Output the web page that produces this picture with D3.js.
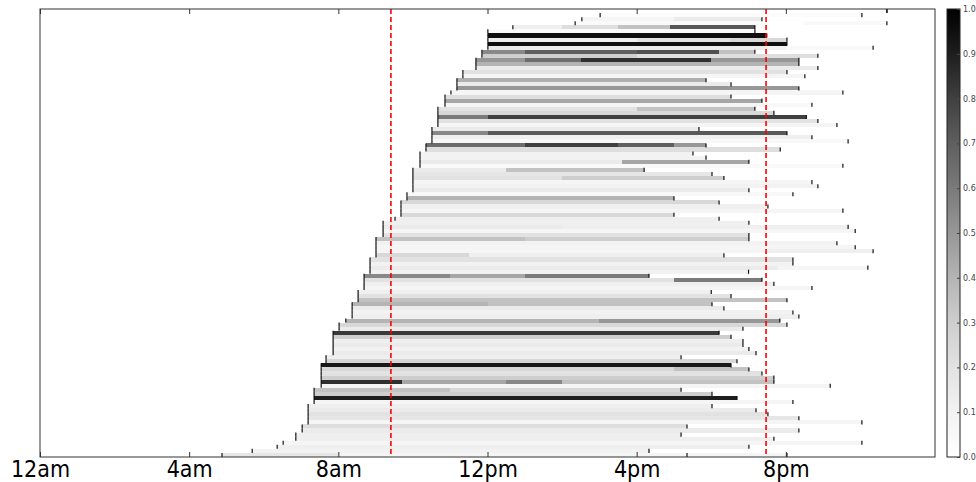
<!DOCTYPE html>
<html><head><meta charset="utf-8">
<script src="https://cdn.jsdelivr.net/npm/d3@7"></script>
<style>body{margin:0;background:#fff}svg{display:block}</style>
</head><body>
<svg id="c" width="976" height="482"></svg>
<script>
// ---- data ----
const tickHours = [0, 4, 8, 12, 16, 20];
const tickLabels = ["12am", "4am", "8am", "12pm", "4pm", "8pm"];
const refLines = [9.41, 19.47];
const colorbarTicks = [0, 0.1, 0.2, 0.3, 0.4, 0.5, 0.6, 0.7, 0.8, 0.9, 1.0];

// start hour per row (top to bottom)
const rowStart = [
 22.71, 15.02, 14.53, 14.35, 12.68, 12.01, 12.01, 12.01, 12.01, 12.01,
 11.85, 11.85, 11.69, 11.69, 11.69, 11.34, 11.34, 11.18, 11.18, 11.18,
 11.02, 10.86, 10.86, 10.86, 10.67, 10.67, 10.67, 10.67, 10.67, 10.51,
 10.51, 10.51, 10.51, 10.35, 10.35, 10.19, 10.19, 10.19, 10.19, 10.0,
 10.0, 10.0, 10.0, 10.0, 10.0, 9.84, 9.84, 9.68, 9.68, 9.68,
 9.68, 9.52, 9.2, 9.2, 9.2, 9.2, 9.01, 9.01, 9.01, 9.01,
 9.01, 8.85, 8.85, 8.85, 8.85, 8.69, 8.69, 8.69, 8.69, 8.53,
 8.53, 8.53, 8.37, 8.37, 8.37, 8.37, 8.2, 8.02, 8.02, 7.86,
 7.86, 7.86, 7.86, 7.86, 7.86, 7.67, 7.67, 7.54, 7.54, 7.54,
 7.54, 7.54, 7.54, 7.35, 7.35, 7.35, 7.35, 7.19, 7.19, 7.19,
 7.19, 7.19, 7.03, 7.03, 6.86, 6.86, 6.52, 6.36, 5.69, 4.88
];

// end / intermediate markers per row
const rowTicks = [
 [22.71], [22.04], [19.36], [22.71], [19.17], [19.17], [19.49], [20.03], [20.03], [22.34],
 [19.17], [20.86], [20.35], [20.35], [20.86], [20.03], [20.51], [17.86], [18.53], [20.35],
 [21.53], [18.53], [19.36], [20.7], [19.17], [19.68], [20.55], [20.86], [21.37], [17.67],
 [20.03], [20.7], [21.67], [17.86], [19.85], [17.51], [17.86], [19.01], [21.53], [16.2],
 [18.02], [18.34], [20.7], [20.86], [19.01], [20.19], [17.0], [18.21], [19.52], [21.53],
 [17.0], [18.21], [19.01], [21.67], [21.86], [19.01], [19.01], [21.37], [21.86], [22.34],
 [18.34], [20.19], [20.19], [22.2], [19.0], [16.33], [19.36], [19.68], [20.7], [18.0],
 [18.53], [20.03], [18.02], [18.34], [20.19], [20.35], [19.84], [20.03], [18.85], [18.21],
 [18.53], [18.85], [18.85], [19.01], [19.2], [17.19], [18.69], [18.53], [19.01], [19.36],
 [19.68], [19.68], [21.19], [17.19], [18.02], [18.69], [20.19], [18.02], [19.2], [19.52],
 [20.35], [22.04], [17.35], [20.35], [17.19], [19.68], [22.04], [19.01], [16.33], [17.35, 20.03]
];

// grey-level segments per row: [fromHour, toHour, value]
const rowSegments = [
 [],
 [[15.02, 22.04, 0.03]],
 [[14.53, 17, 0.08], [17, 19.36, 0.15]],
 [[14.35, 19.4, 0.04], [20.5, 22.71, 0.05]],
 [[12.68, 14, 0.12], [14, 15.5, 0.22], [15.5, 16.9, 0.35], [16.9, 19.17, 0.72]],
 [[12.01, 19.17, 0.03]],
 [[12.01, 19.49, 0.95]],
 [[12.01, 16, 0.12], [16, 18.5, 0.2], [18.5, 20.03, 0.25]],
 [[12.01, 20.03, 0.95]],
 [[12.01, 19.5, 0.15], [19.5, 20.03, 0.1], [20.03, 22.34, 0.05]],
 [[11.85, 13, 0.55], [13, 16, 0.7], [16, 18.2, 0.75], [18.2, 19.17, 0.35]],
 [[11.85, 16, 0.3], [16, 20.86, 0.22]],
 [[11.69, 13, 0.5], [13, 14.5, 0.65], [14.5, 18, 0.85], [18, 20.35, 0.5]],
 [[11.69, 20.35, 0.4]],
 [[11.69, 20.86, 0.15]],
 [[11.34, 20.03, 0.2]],
 [[11.34, 20.51, 0.08]],
 [[11.18, 17.86, 0.42]],
 [[11.18, 18.53, 0.15]],
 [[11.18, 20.35, 0.5]],
 [[11.02, 21.53, 0.08]],
 [[10.86, 18.53, 0.22]],
 [[10.86, 19.36, 0.45]],
 [[10.86, 19.5, 0.08], [19.5, 20.7, 0.06]],
 [[10.67, 16, 0.2], [16, 19.17, 0.35]],
 [[10.67, 19.68, 0.25]],
 [[10.67, 12, 0.6], [12, 20.55, 0.8]],
 [[10.67, 20.86, 0.2]],
 [[10.67, 21.37, 0.08]],
 [[10.51, 17.67, 0.15]],
 [[10.51, 12, 0.55], [12, 20.03, 0.72]],
 [[10.51, 20.7, 0.12]],
 [[10.51, 21.67, 0.06]],
 [[10.35, 13, 0.65], [13, 15.5, 0.8], [15.5, 17, 0.7], [17, 17.86, 0.5]],
 [[10.35, 19.85, 0.22]],
 [[10.19, 17.51, 0.1]],
 [[10.19, 17.86, 0.1]],
 [[10.19, 15.6, 0.15], [15.6, 19.01, 0.45]],
 [[10.19, 21.53, 0.05]],
 [[10.0, 12.5, 0.15], [12.5, 16.2, 0.35]],
 [[10.0, 18.02, 0.18]],
 [[10.0, 14, 0.2], [14, 18.34, 0.3]],
 [[10.0, 20.7, 0.08]],
 [[10.0, 20.86, 0.1]],
 [[10.0, 19.01, 0.15]],
 [[9.84, 20.19, 0.06]],
 [[9.84, 17.0, 0.4]],
 [[9.68, 18.21, 0.25]],
 [[9.68, 19.52, 0.12]],
 [[9.68, 21.53, 0.08]],
 [[9.68, 17.0, 0.25]],
 [[9.52, 18.21, 0.12]],
 [[9.2, 19.01, 0.12]],
 [[9.2, 14, 0.15], [14, 21.67, 0.12]],
 [[9.2, 21.86, 0.08]],
 [[9.2, 19.01, 0.2]],
 [[9.01, 13, 0.35], [13, 19.01, 0.3]],
 [[9.01, 21.37, 0.1]],
 [[9.01, 21.86, 0.08]],
 [[9.01, 19.5, 0.08], [19.5, 22.34, 0.12]],
 [[9.01, 11.5, 0.25], [11.5, 18.34, 0.12]],
 [[8.85, 20.19, 0.2]],
 [[8.85, 20.19, 0.1]],
 [[8.85, 19.8, 0.15], [19.8, 22.2, 0.08]],
 [[8.85, 19.0, 0.1]],
 [[8.69, 11, 0.55], [11, 13, 0.45], [13, 16.33, 0.6]],
 [[8.69, 17, 0.2], [17, 19.36, 0.6]],
 [[8.69, 19.68, 0.12]],
 [[8.69, 20.7, 0.08]],
 [[8.53, 18.0, 0.12]],
 [[8.53, 18.53, 0.2]],
 [[8.53, 20.03, 0.35]],
 [[8.37, 12, 0.4], [12, 18.02, 0.35]],
 [[8.37, 18.34, 0.15]],
 [[8.37, 20.19, 0.1]],
 [[8.37, 20.35, 0.12]],
 [[8.2, 15, 0.4], [15, 19.84, 0.5]],
 [[8.02, 20.03, 0.25]],
 [[8.02, 18.85, 0.15]],
 [[7.86, 18.21, 0.82]],
 [[7.86, 18.53, 0.3]],
 [[7.86, 18.85, 0.12]],
 [[7.86, 18.85, 0.15]],
 [[7.86, 19.01, 0.1]],
 [[7.86, 19.2, 0.15]],
 [[7.67, 17.19, 0.12]],
 [[7.67, 18.69, 0.25]],
 [[7.54, 18.53, 0.92]],
 [[7.54, 17, 0.25], [17, 19.01, 0.35]],
 [[7.54, 19.36, 0.2]],
 [[7.54, 19.68, 0.3]],
 [[7.54, 9.7, 0.85], [9.7, 12.5, 0.45], [12.5, 14, 0.55], [14, 19.68, 0.35]],
 [[7.54, 21.19, 0.08]],
 [[7.35, 11, 0.35], [11, 17.19, 0.25]],
 [[7.35, 18.02, 0.3]],
 [[7.35, 18.69, 0.9]],
 [[7.35, 20.19, 0.08]],
 [[7.19, 18.02, 0.12]],
 [[7.19, 19.2, 0.15]],
 [[7.19, 19.52, 0.2]],
 [[7.19, 20.35, 0.18]],
 [[7.19, 22.04, 0.08]],
 [[7.03, 17.35, 0.22]],
 [[7.03, 20.35, 0.15]],
 [[6.86, 17.19, 0.12]],
 [[6.86, 19.68, 0.12]],
 [[6.52, 22.04, 0.08]],
 [[6.36, 19.01, 0.12]],
 [[5.69, 16.33, 0.1]],
 [[4.88, 8, 0.18], [8, 20.03, 0.08]]
];

// ---- layout ----
const svg = d3.select("#c");
const L = 40, R = 935, T = 9, B = 457;
const x = d3.scaleLinear().domain([0, 24]).range([L, R]);
const y = d3.scaleBand().domain(d3.range(rowStart.length)).range([T, B]).paddingInner(0);
const grey = d3.scaleSequential(d3.interpolateGreys).domain([0, 1]);
const bw = y.bandwidth();

const plot = svg.append("g");
plot.append("rect").attr("x", L).attr("y", T).attr("width", R - L).attr("height", B - T).attr("fill", "#fff");

// cells
rowSegments.forEach((segs, i) => {
  plot.selectAll(null).data(segs).enter().append("rect")
    .attr("x", d => x(d[0])).attr("width", d => Math.max(0, x(d[1]) - x(d[0])))
    .attr("y", y(i)).attr("height", bw)
    .attr("fill", d => grey(d[2]))
    .attr("shape-rendering", "crispEdges");
});

// markers
const marks = [];
rowStart.forEach((s, i) => { marks.push([i, s]); rowTicks[i].forEach(t => marks.push([i, t])); });
plot.selectAll(null).data(marks).enter().append("line")
  .attr("x1", d => x(d[1])).attr("x2", d => x(d[1]))
  .attr("y1", d => y(d[0])).attr("y2", d => y(d[0]) + bw)
  .attr("stroke", "#111").attr("stroke-width", 1.2);

// reference lines
plot.selectAll(null).data(refLines).enter().append("line")
  .attr("x1", d => x(d)).attr("x2", d => x(d)).attr("y1", T).attr("y2", B)
  .attr("stroke", "#ff0000").attr("stroke-width", 1.6).attr("stroke-dasharray", "5,3");

// frame
svg.append("rect").attr("x", L).attr("y", T).attr("width", R - L).attr("height", B - T)
  .attr("fill", "none").attr("stroke", "#333").attr("stroke-width", 1);

// axes
const ax = svg.append("g").attr("transform", `translate(0,${B})`)
  .call(d3.axisBottom(x).tickValues(tickHours).tickFormat((d, i) => tickLabels[i]).tickSize(-5).tickPadding(4));
ax.select(".domain").remove();
ax.selectAll("text").attr("font-family", "'DejaVu Sans Condensed','Liberation Sans Narrow','DejaVu Sans',sans-serif")
  .attr("font-size", 23).attr("fill", "#000");
ax.selectAll("line").attr("stroke", "#333");
const axt = svg.append("g").attr("transform", `translate(0,${T})`)
  .call(d3.axisTop(x).tickValues(tickHours).tickFormat("").tickSize(-5));
axt.select(".domain").remove();
axt.selectAll("line").attr("stroke", "#333");

// colorbar
const cbX = 947, cbW = 13;
const defs = svg.append("defs");
const lg = defs.append("linearGradient").attr("id", "cbg").attr("x1", 0).attr("y1", 1).attr("x2", 0).attr("y2", 0);
d3.range(0, 1.0001, 0.1).forEach(t => lg.append("stop").attr("offset", t).attr("stop-color", grey(t)));
svg.append("rect").attr("x", cbX).attr("y", T).attr("width", cbW).attr("height", B - T)
  .attr("fill", "url(#cbg)").attr("stroke", "#222").attr("stroke-width", 1);
const cy = d3.scaleLinear().domain([0, 1]).range([B, T]);
const cax = svg.append("g").attr("transform", `translate(${cbX + cbW},0)`)
  .call(d3.axisRight(cy).tickValues(colorbarTicks).tickFormat(d3.format(".1f")).tickSize(-3).tickPadding(3));
cax.select(".domain").remove();
cax.selectAll("line").attr("stroke", "#444");
cax.selectAll("text").attr("font-family", "'DejaVu Sans',sans-serif").attr("font-size", 8).attr("fill", "#444");
</script>
</body></html>
